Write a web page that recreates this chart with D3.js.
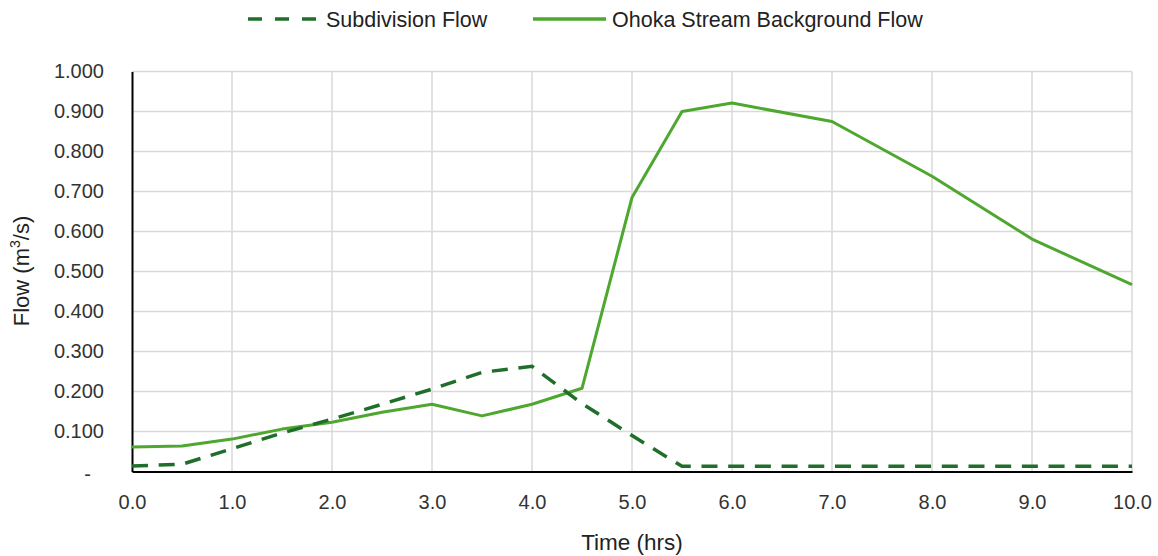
<!DOCTYPE html>
<html><head><meta charset="utf-8">
<script src="https://cdn.jsdelivr.net/npm/d3@7"></script>
<style>body{margin:0;background:#fff;} svg{display:block;}</style>
</head><body>
<svg id="c" width="1158" height="556"></svg>
<script>
const subTime = [0,0.5,1,1.5,2,2.5,3,3.5,4,4.5,5,5.5,6,7,8,9,10];
const subFlow = [0.014,0.018,0.057,0.096,0.131,0.168,0.206,0.248,0.263,0.170,0.090,0.013,0.013,0.013,0.013,0.013,0.013];
const bgTime = [0,0.5,1,1.5,2,2.5,3,3.5,4,4.5,5,5.5,6,7,8,9,10];
const bgFlow = [0.061,0.064,0.081,0.106,0.123,0.148,0.168,0.139,0.168,0.208,0.685,0.900,0.921,0.875,0.738,0.581,0.467];
const xTicks = [0,1,2,3,4,5,6,7,8,9,10];
const yTicks = [0,0.1,0.2,0.3,0.4,0.5,0.6,0.7,0.8,0.9,1.0];
const seriesNames = ["Subdivision Flow","Ohoka Stream Background Flow"];

const svg = d3.select("#c");
const x = d3.scaleLinear().domain([0,10]).range([132,1132]);
const y = d3.scaleLinear().domain([0,1]).range([471.5,71.5]);
const dark = "#1f6e2a", light = "#4ea72e";

// gridlines
svg.append("g").selectAll("line.h").data(yTicks.slice(1)).join("line")
  .attr("x1",x(0)).attr("x2",x(10)).attr("y1",d=>y(d)).attr("y2",d=>y(d))
  .attr("stroke","#d9d9d9").attr("stroke-width",1.5);
svg.append("g").selectAll("line.v").data(xTicks.slice(1)).join("line")
  .attr("y1",y(0)).attr("y2",y(1)).attr("x1",d=>x(d)).attr("x2",d=>x(d))
  .attr("stroke","#d9d9d9").attr("stroke-width",1.5);

// axes
const fontTick = "'Liberation Sans', Arial, sans-serif";
const xa = svg.append("g").attr("transform",`translate(0,${y(0)})`)
  .call(d3.axisBottom(x).tickValues(xTicks).tickSize(0).tickPadding(23).tickFormat(d3.format(".1f")));
xa.select(".domain").attr("stroke","#000").attr("stroke-width",2);
xa.selectAll("text").attr("font-family",fontTick).attr("font-size",20).attr("fill","#333");
const ya = svg.append("g").attr("transform",`translate(${x(0)},0)`)
  .call(d3.axisLeft(y).tickValues(yTicks).tickSize(0).tickPadding(28).tickFormat(d=> d===0 ? "-" : d3.format(".3f")(d)));
ya.select(".domain").attr("stroke","#000").attr("stroke-width",2);
ya.selectAll("text").attr("font-family",fontTick).attr("font-size",20).attr("fill","#333");
ya.selectAll(".tick").filter(d=>d===0).select("text").attr("dx",-13).attr("dy","0.45em");

// lines
const line = d3.line().x(d=>x(d[0])).y(d=>y(d[1]));
svg.append("path").datum(bgTime.map((t,i)=>[t,bgFlow[i]])).attr("d",line)
  .attr("fill","none").attr("stroke",light).attr("stroke-width",3).attr("stroke-linejoin","round");
svg.append("path").datum(subTime.map((t,i)=>[t,subFlow[i]])).attr("d",line)
  .attr("fill","none").attr("stroke",dark).attr("stroke-width",3.5).attr("stroke-dasharray","16,10.7");

// axis titles
const fontTitle = "'Liberation Sans', Arial, sans-serif";
svg.append("text").attr("x",632).attr("y",550).attr("text-anchor","middle")
  .attr("font-family",fontTitle).attr("font-size",22.5).attr("fill","#222").text("Time (hrs)");
const yt = svg.append("text").attr("transform","translate(29,271) rotate(-90)").attr("text-anchor","middle")
  .attr("font-family",fontTitle).attr("font-size",22).attr("fill","#222");
yt.append("tspan").text("Flow (m");
yt.append("tspan").attr("font-size",14).attr("dy",-9).text("3");
yt.append("tspan").attr("dy",9).text("/s)");

// legend
const fontLeg = "'Liberation Sans', Arial, sans-serif";
const lg = svg.append("g");
lg.append("line").attr("x1",248).attr("x2",318).attr("y1",19).attr("y2",19)
  .attr("stroke",dark).attr("stroke-width",3.5).attr("stroke-dasharray","14,13");
lg.append("text").attr("x",326).attr("y",26.5).attr("font-family",fontLeg).attr("font-size",21.5).attr("fill","#222").text(seriesNames[0]);
lg.append("line").attr("x1",533).attr("x2",606).attr("y1",19).attr("y2",19)
  .attr("stroke",light).attr("stroke-width",3.5);
lg.append("text").attr("x",612).attr("y",26.5).attr("font-family",fontLeg).attr("font-size",21.5).attr("fill","#222").text(seriesNames[1]);
</script>
</body></html>
